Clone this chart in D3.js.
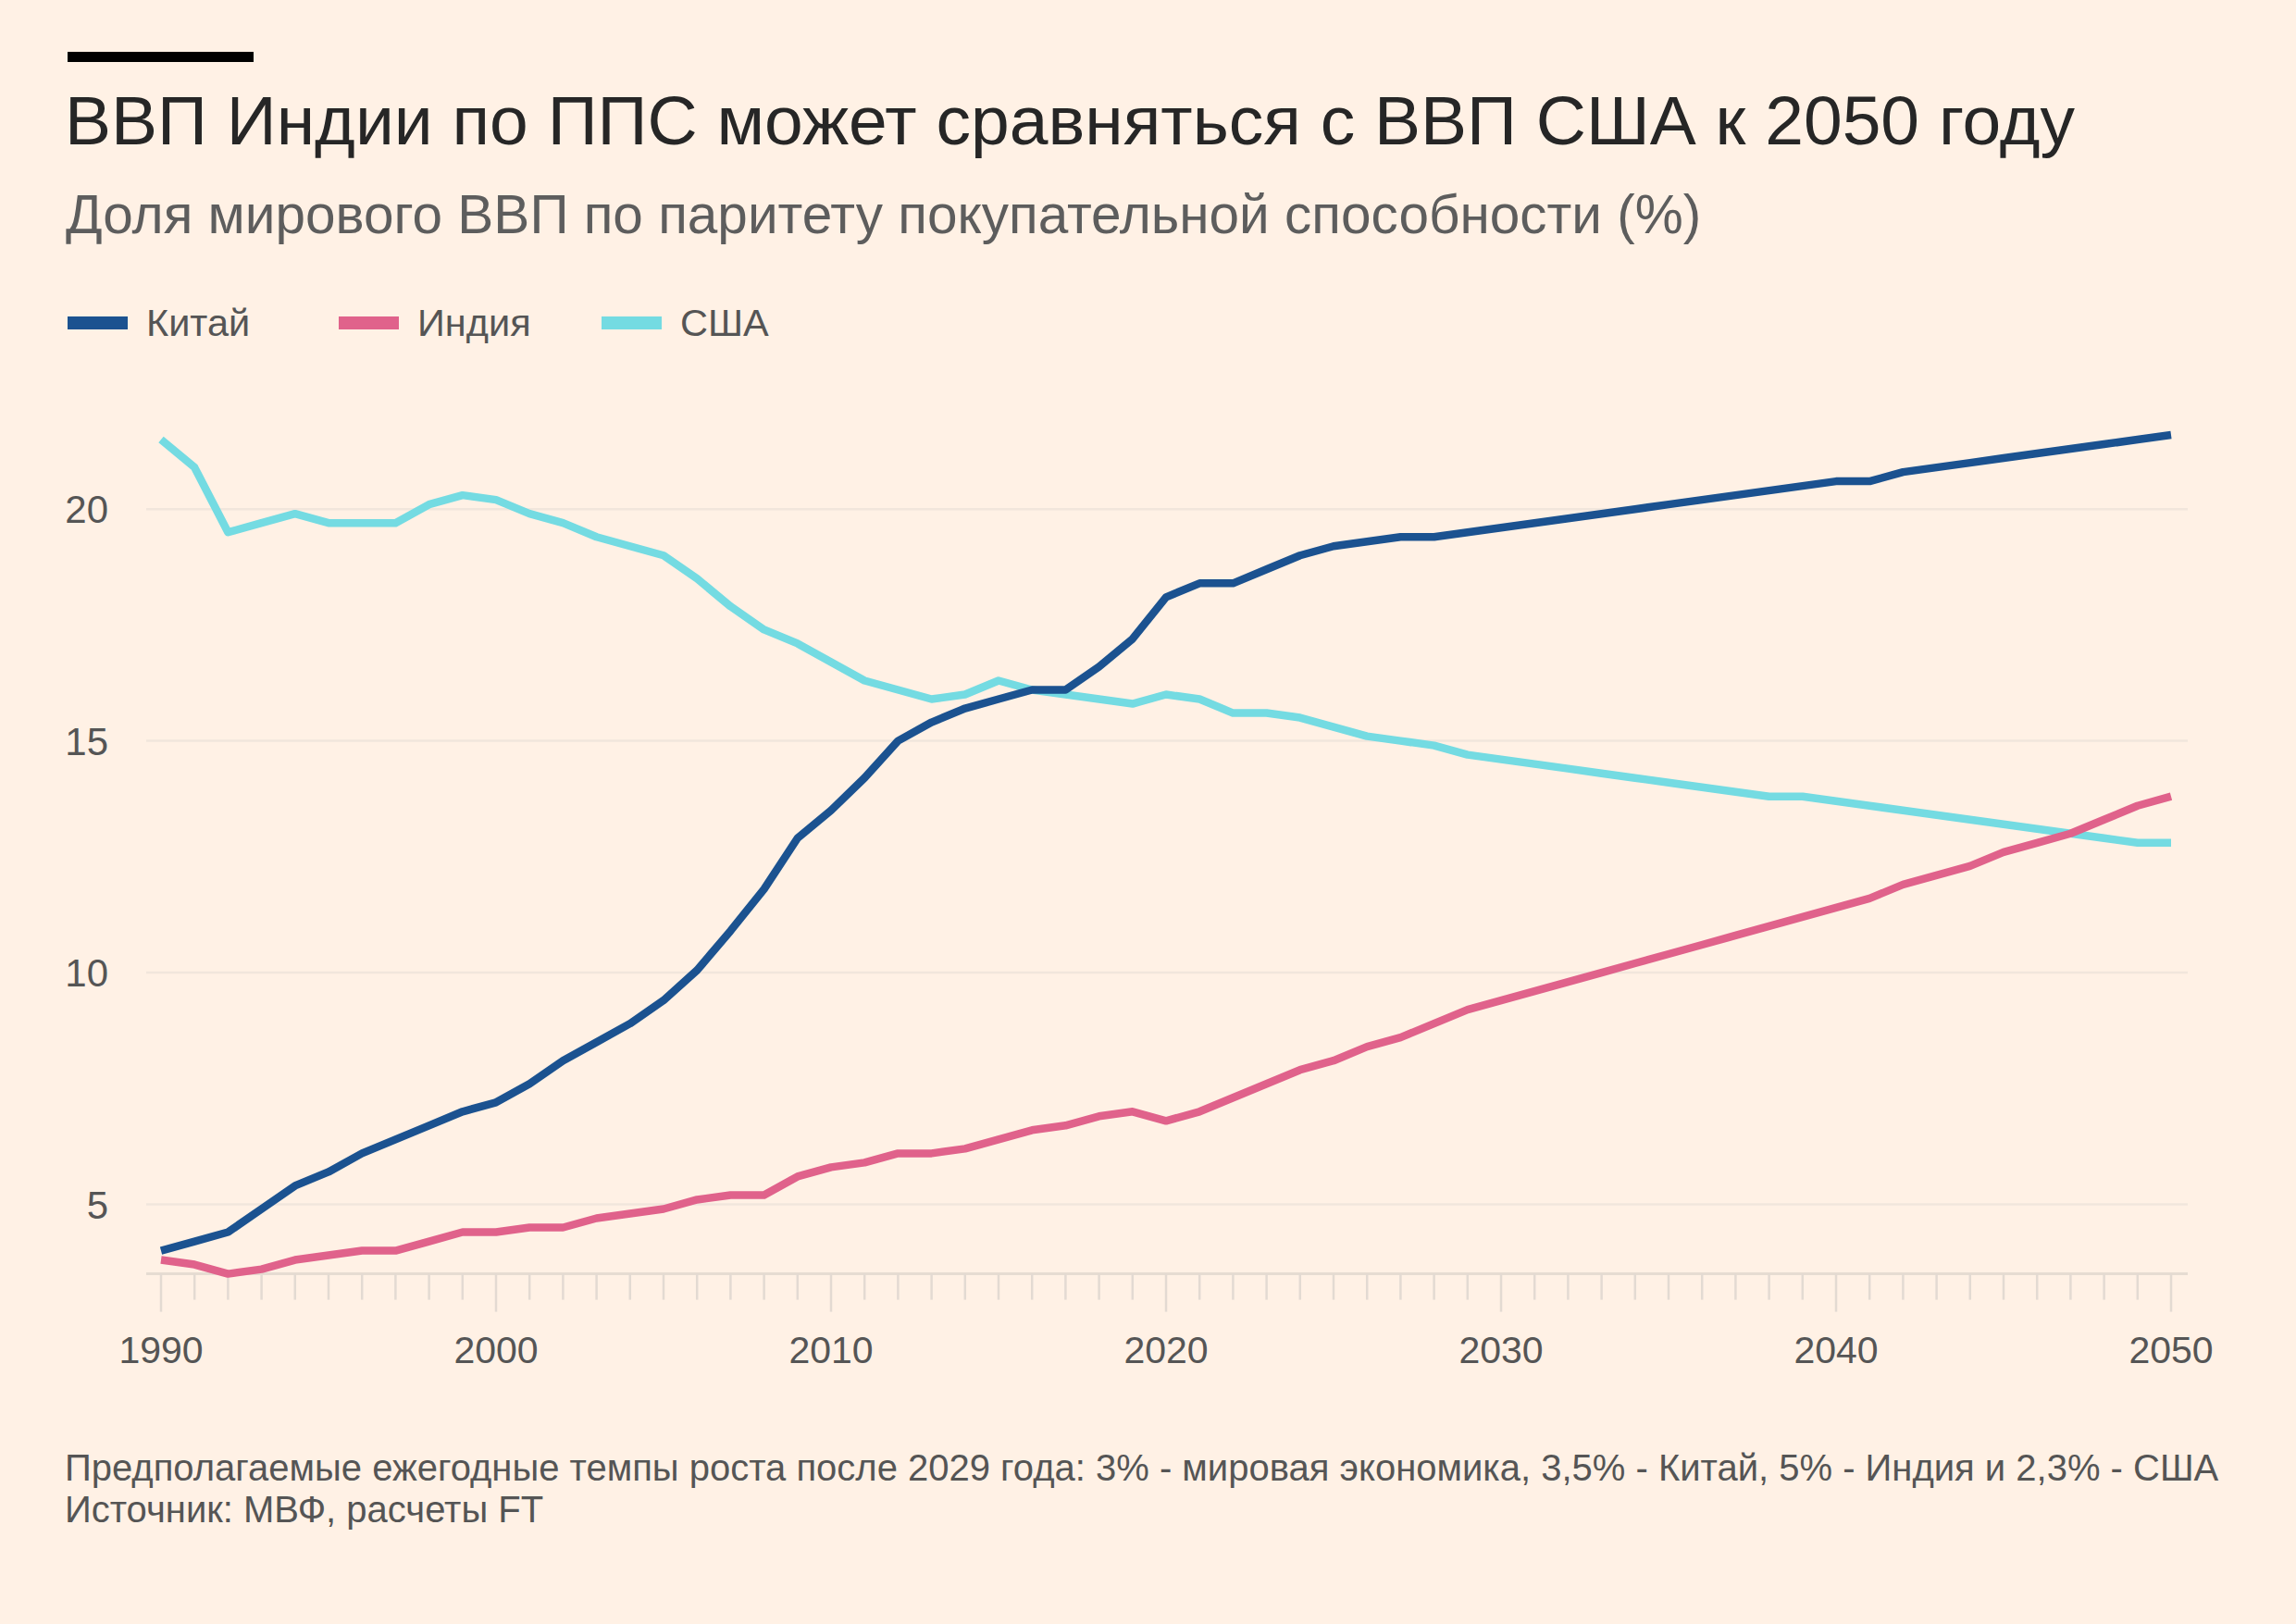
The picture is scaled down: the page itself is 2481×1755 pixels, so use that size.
<!DOCTYPE html>
<html>
<head>
<meta charset="utf-8">
<script src="https://cdn.jsdelivr.net/npm/d3@7/dist/d3.min.js"></script>
<style>
  html, body { margin: 0; padding: 0; background: #fff1e5; }
  svg { display: block; }
  text { font-family: "Liberation Sans", Arial, sans-serif; }
</style>
</head>
<body>
<svg id="chart" width="2481" height="1755"></svg>
<script>
const years = d3.range(1990, 2051);
const china = [4.0,4.2,4.4,4.9,5.4,5.7,6.1,6.4,6.7,7.0,
  7.2,7.6,8.1,8.5,8.9,9.4,10.05,10.9,11.8,12.9,
  13.5,14.2,15.0,15.4,15.7,15.9,16.1,16.1,16.6,17.2,
  18.1,18.4,18.4,18.7,19.0,19.2,19.3,19.4,19.4,19.5,
  19.6,19.7,19.8,19.9,20.0,20.1,20.2,20.3,20.4,20.5,
  20.6,20.6,20.8,20.9,21.0,21.1,21.2,21.3,21.4,21.5,21.6];
const india = [3.8,3.7,3.5,3.6,3.8,3.9,4.0,4.0,4.2,4.4,
  4.4,4.5,4.5,4.7,4.8,4.9,5.1,5.2,5.2,5.6,
  5.8,5.9,6.1,6.1,6.2,6.4,6.6,6.7,6.9,7.0,
  6.8,7.0,7.3,7.6,7.9,8.1,8.4,8.6,8.9,9.2,
  9.4,9.6,9.8,10.0,10.2,10.4,10.6,10.8,11.0,11.2,
  11.4,11.6,11.9,12.1,12.3,12.6,12.8,13.0,13.3,13.6,13.8];
const usa = [21.5,20.9,19.5,19.7,19.9,19.7,19.7,19.7,20.1,20.3,
  20.2,19.9,19.7,19.4,19.2,19.0,18.5,17.9,17.4,17.1,
  16.7,16.3,16.1,15.9,16.0,16.3,16.1,16.0,15.9,15.8,
  16.0,15.9,15.6,15.6,15.5,15.3,15.1,15.0,14.9,14.7,
  14.6,14.5,14.4,14.3,14.2,14.1,14.0,13.9,13.8,13.8,
  13.7,13.6,13.5,13.4,13.3,13.2,13.1,13.0,12.9,12.8,12.8];
const seriesNames = ["Китай", "Индия", "США"];
const seriesColors = ["#1b5290", "#e0628b", "#74dbe2"];
const yTicks = [5, 10, 15, 20];
const xTickLabels = [1990, 2000, 2010, 2020, 2030, 2040, 2050];

const title = "ВВП Индии по ППС может сравняться с ВВП США к 2050 году";
const subtitle = "Доля мирового ВВП по паритету покупательной способности (%)";
const note1 = "Предполагаемые ежегодные темпы роста после 2029 года: 3% - мировая экономика, 3,5% - Китай, 5% - Индия и 2,3% - США";
const note2 = "Источник: МВФ, расчеты FT";

const svg = d3.select("#chart");
svg.append("rect").attr("width", 2481).attr("height", 1755).attr("fill", "#fff1e5");

const x = d3.scaleLinear().domain([1990, 2050]).range([174, 2346]);
const y = d3.scaleLinear().domain([3.5, 22]).range([1376.6, 450]);
const gridX0 = 158, gridX1 = 2364;

// header
svg.append("rect").attr("x", 73).attr("y", 56).attr("width", 201).attr("height", 11).attr("fill", "#000");
svg.append("text").attr("x", 70).attr("y", 156).attr("font-size", 75).attr("fill", "#262626").text(title);
svg.append("text").attr("x", 71).attr("y", 252).attr("font-size", 58.5).attr("fill", "#5d5d5d").text(subtitle);

// legend
const legendX = [73, 366, 650];
seriesNames.forEach((n, i) => {
  svg.append("rect").attr("x", legendX[i]).attr("y", 342).attr("width", 65).attr("height", 14).attr("fill", seriesColors[i]);
  svg.append("text").attr("x", legendX[i] + 85).attr("y", 363).attr("font-size", 41.5).attr("fill", "#555").text(n);
});

// gridlines
const g = svg.append("g");
g.selectAll("line.grid").data(yTicks).join("line")
  .attr("x1", gridX0).attr("x2", gridX1)
  .attr("y1", d => y(d)).attr("y2", d => y(d))
  .attr("stroke", "#f1e6dc").attr("stroke-width", 2.5);
g.selectAll("text.ylab").data(yTicks).join("text")
  .attr("x", 117).attr("y", d => y(d)).attr("dy", "0.36em")
  .attr("text-anchor", "end").attr("font-size", 42).attr("fill", "#555")
  .text(d => d);

// baseline + ticks
g.append("line").attr("x1", gridX0).attr("x2", gridX1).attr("y1", y(3.5)).attr("y2", y(3.5))
  .attr("stroke", "#e6dcd2").attr("stroke-width", 3);
g.selectAll("line.tick").data(years).join("line")
  .attr("x1", d => x(d)).attr("x2", d => x(d))
  .attr("y1", y(3.5)).attr("y2", d => y(3.5) + (d % 10 === 0 ? 41 : 28))
  .attr("stroke", "#e3dad2").attr("stroke-width", 2.5);
g.selectAll("text.xlab").data(xTickLabels).join("text")
  .attr("x", d => x(d)).attr("y", 1473)
  .attr("text-anchor", "middle").attr("font-size", 41).attr("fill", "#555")
  .text(d => d);

// lines
const line = d3.line().x((d, i) => x(years[i])).y(d => y(d));
const drawOrder = [[usa, 2], [china, 0], [india, 1]];
drawOrder.forEach(([vals, ci]) => {
  svg.append("path").datum(vals).attr("d", line)
    .attr("fill", "none").attr("stroke", seriesColors[ci])
    .attr("stroke-width", 8.5).attr("stroke-linejoin", "round");
});

// footnotes
svg.append("text").attr("x", 70).attr("y", 1600).attr("font-size", 40).attr("fill", "#555").text(note1);
svg.append("text").attr("x", 70).attr("y", 1645).attr("font-size", 40).attr("fill", "#555").text(note2);
</script>
</body>
</html>
